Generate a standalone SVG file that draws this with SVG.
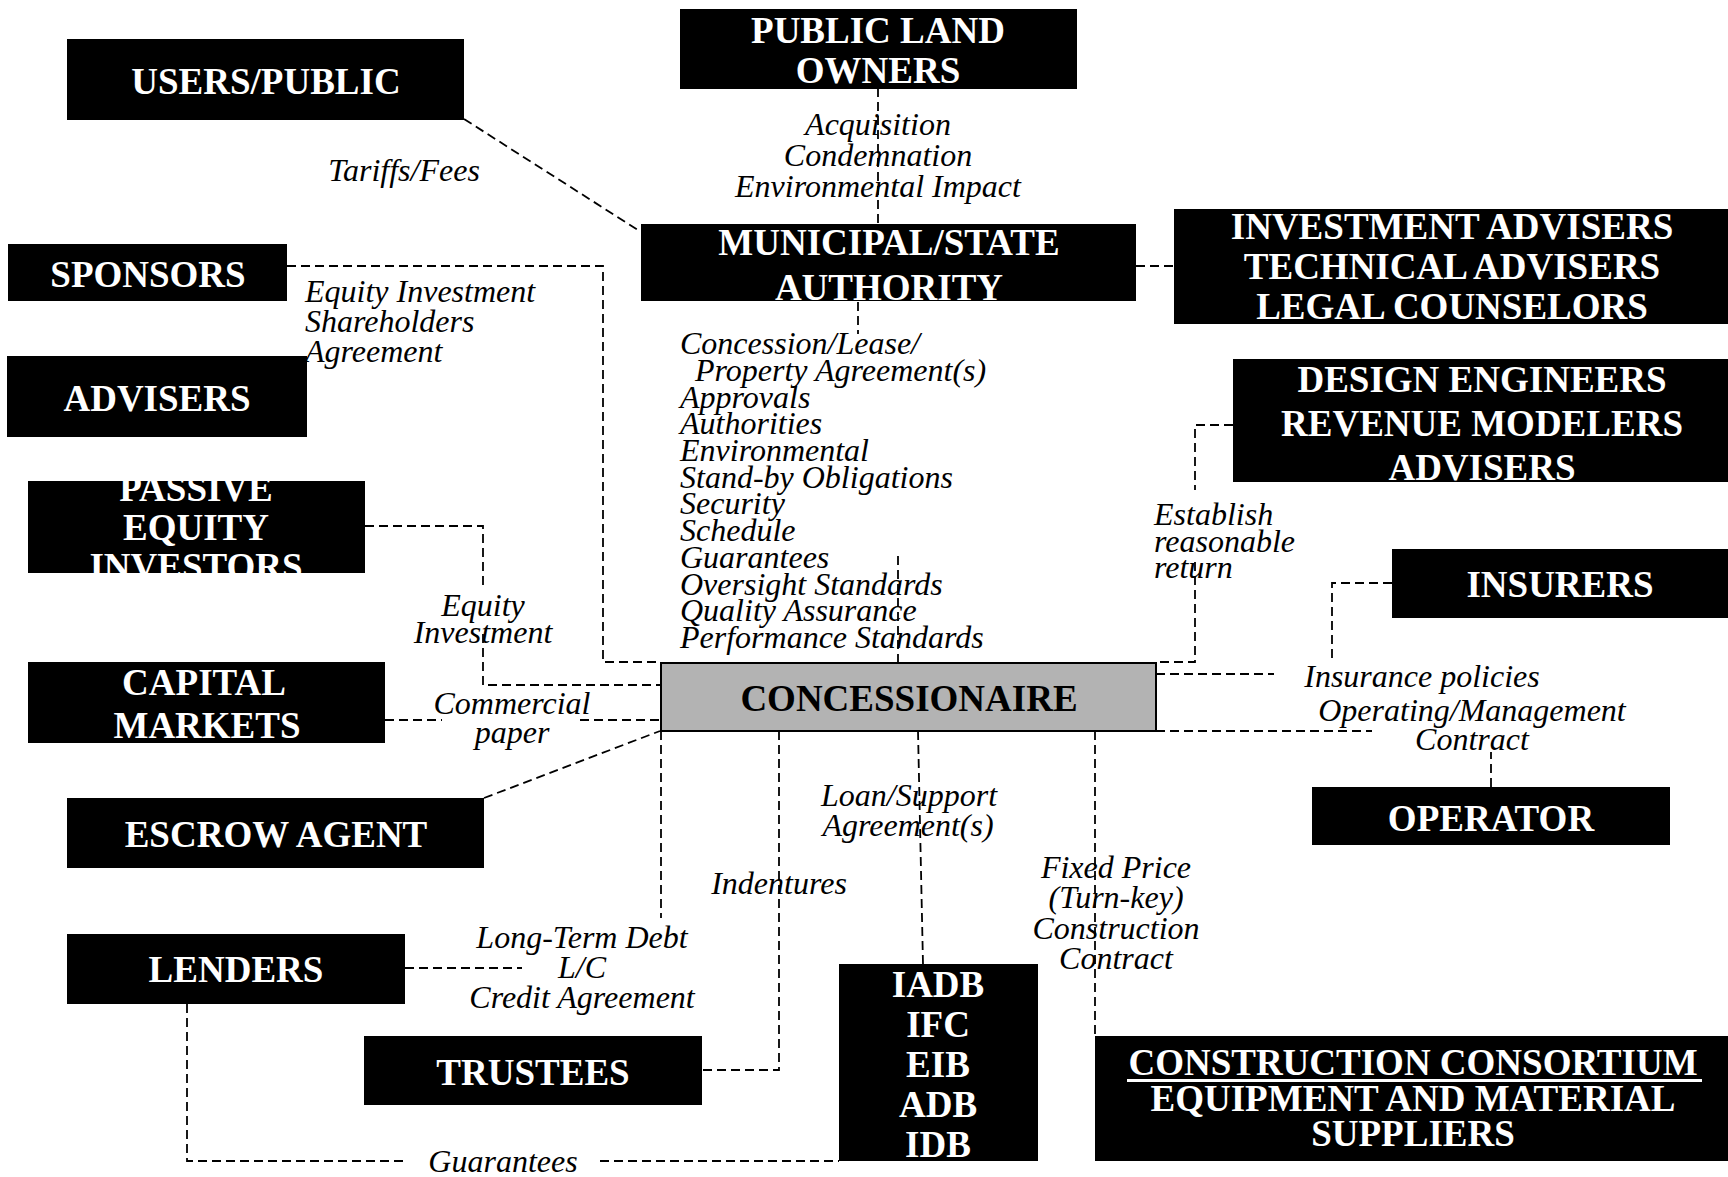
<svg xmlns="http://www.w3.org/2000/svg" width="1728" height="1177" viewBox="0 0 1728 1177">
<style>
.box{fill:#000}
.t{font-family:"Liberation Serif","Times New Roman",serif;font-weight:bold;font-size:37px;fill:#fff;text-anchor:middle}
.lbl{font-family:"Liberation Serif","Times New Roman",serif;font-style:italic;font-size:32px;fill:#000}
.c{text-anchor:middle}
.conn path{fill:none;stroke:#000;stroke-width:1.8;stroke-dasharray:9 5}
</style>
<defs>
<clipPath id="clipPassive"><rect x="28" y="481" width="337" height="92"/></clipPath>
</defs>
<rect width="1728" height="1177" fill="#fff"/>

<g id="connectors" class="conn">
<path d="M464,119 L641,232"/>
<path d="M878,88 L878,224"/>
<path d="M1136,266 L1174,266"/>
<path d="M858,302 L858,334"/>
<path d="M898,556 L898,663"/>
<path d="M287,266 H603 V662 H660"/>
<path d="M365,526 H483 V588"/>
<path d="M483,634 V685 H660"/>
<path d="M385,720 H442"/>
<path d="M580,720 H660"/>
<path d="M484,798 L660,731"/>
<path d="M661,731 V918"/>
<path d="M405,968 H522"/>
<path d="M779,731 V1070 H701"/>
<path d="M918,731 L923,964"/>
<path d="M1095,731 V1036"/>
<path d="M187,1004 V1161 H405"/>
<path d="M600,1161 H839"/>
<path d="M1233,425 H1195 V490"/>
<path d="M1195,562 V662 H1156"/>
<path d="M1156,674 H1274"/>
<path d="M1392,583 H1332 V661"/>
<path d="M1156,731 H1372"/>
<path d="M1491,787 V752"/>
</g>

<g id="labels">
<text class="lbl c" x="404" y="181">Tariffs/Fees</text>
<text class="lbl c" x="878" y="135">Acquisition</text>
<text class="lbl c" x="878" y="166">Condemnation</text>
<text class="lbl c" x="878" y="197">Environmental Impact</text>
<text class="lbl" x="680" y="354">Concession/Lease/</text>
<text class="lbl" x="695" y="381">Property Agreement(s)</text>
<text class="lbl" x="680" y="408">Approvals</text>
<text class="lbl" x="680" y="434">Authorities</text>
<text class="lbl" x="680" y="461">Environmental</text>
<text class="lbl" x="680" y="488">Stand-by Obligations</text>
<text class="lbl" x="680" y="514">Security</text>
<text class="lbl" x="680" y="541">Schedule</text>
<text class="lbl" x="680" y="568">Guarantees</text>
<text class="lbl" x="680" y="595">Oversight Standards</text>
<text class="lbl" x="680" y="621">Quality Assurance</text>
<text class="lbl" x="680" y="648">Performance Standards</text>
<text class="lbl" x="305" y="302">Equity Investment</text>
<text class="lbl" x="305" y="332">Shareholders</text>
<text class="lbl" x="305" y="362">Agreement</text>
<text class="lbl c" x="483" y="616">Equity</text>
<text class="lbl c" x="483" y="643">Investment</text>
<text class="lbl c" x="512" y="714">Commercial</text>
<text class="lbl c" x="512" y="743">paper</text>
<text class="lbl c" x="582" y="948">Long-Term Debt</text>
<text class="lbl c" x="582" y="978">L/C</text>
<text class="lbl c" x="582" y="1008">Credit Agreement</text>
<text class="lbl c" x="779" y="894">Indentures</text>
<text class="lbl c" x="909" y="806">Loan/Support</text>
<text class="lbl c" x="908" y="836">Agreement(s)</text>
<text class="lbl c" x="1116" y="878">Fixed Price</text>
<text class="lbl c" x="1116" y="908">(Turn-key)</text>
<text class="lbl c" x="1116" y="939">Construction</text>
<text class="lbl c" x="1116" y="969">Contract</text>
<text class="lbl c" x="503" y="1172">Guarantees</text>
<text class="lbl" x="1154" y="525">Establish</text>
<text class="lbl" x="1154" y="552">reasonable</text>
<text class="lbl" x="1154" y="578">return</text>
<text class="lbl c" x="1422" y="687">Insurance policies</text>
<text class="lbl c" x="1472" y="721">Operating/Management</text>
<text class="lbl c" x="1472" y="750">Contract</text>
</g>

<g id="public-land-owners">
<rect class="box" x="680" y="9" width="397" height="80"/>
<text class="t" x="878" y="43">PUBLIC LAND</text>
<text class="t" x="878" y="83">OWNERS</text>
</g>
<g id="users-public">
<rect class="box" x="67" y="39" width="397" height="81"/>
<text class="t" x="266" y="94">USERS/PUBLIC</text>
</g>
<g id="municipal-state-authority">
<rect class="box" x="641" y="224" width="495" height="77"/>
<text class="t" x="889" y="255">MUNICIPAL/STATE</text>
<text class="t" x="889" y="300">AUTHORITY</text>
</g>
<g id="investment-advisers">
<rect class="box" x="1174" y="209" width="554" height="115"/>
<text class="t" x="1452" y="239">INVESTMENT ADVISERS</text>
<text class="t" x="1452" y="279">TECHNICAL ADVISERS</text>
<text class="t" x="1452" y="319">LEGAL COUNSELORS</text>
</g>
<g id="design-engineers">
<rect class="box" x="1233" y="359" width="495" height="123"/>
<text class="t" x="1482" y="392">DESIGN ENGINEERS</text>
<text class="t" x="1482" y="436">REVENUE MODELERS</text>
<text class="t" x="1482" y="480">ADVISERS</text>
</g>
<g id="sponsors">
<rect class="box" x="8" y="244" width="279" height="57"/>
<text class="t" x="148" y="287">SPONSORS</text>
</g>
<g id="advisers">
<rect class="box" x="7" y="356" width="300" height="81"/>
<text class="t" x="157" y="411">ADVISERS</text>
</g>
<g id="passive-equity-investors">
<rect class="box" x="28" y="481" width="337" height="92"/>
<g clip-path="url(#clipPassive)">
<text class="t" x="196" y="501">PASSIVE</text>
<text class="t" x="196" y="540">EQUITY</text>
<text class="t" x="196" y="579">INVESTORS</text>
</g>
</g>
<g id="capital-markets">
<rect class="box" x="28" y="662" width="357" height="81"/>
<text class="t" x="204" y="695">CAPITAL</text>
<text class="t" x="207" y="738">MARKETS</text>
</g>
<g id="escrow-agent">
<rect class="box" x="67" y="798" width="417" height="70"/>
<text class="t" x="276" y="847">ESCROW AGENT</text>
</g>
<g id="lenders">
<rect class="box" x="67" y="934" width="338" height="70"/>
<text class="t" x="236" y="982">LENDERS</text>
</g>
<g id="trustees">
<rect class="box" x="364" y="1036" width="338" height="69"/>
<text class="t" x="533" y="1085">TRUSTEES</text>
</g>
<g id="multilateral-banks">
<rect class="box" x="839" y="964" width="199" height="197"/>
<text class="t" x="938" y="997">IADB</text>
<text class="t" x="938" y="1037">IFC</text>
<text class="t" x="938" y="1077">EIB</text>
<text class="t" x="938" y="1117">ADB</text>
<text class="t" x="938" y="1157">IDB</text>
</g>
<g id="construction-consortium">
<rect class="box" x="1095" y="1036" width="633" height="125"/>
<text class="t" x="1413" y="1075">CONSTRUCTION CONSORTIUM</text>
<rect x="1127" y="1079" width="575" height="3" fill="#fff"/>
<text class="t" x="1413" y="1111">EQUIPMENT AND MATERIAL</text>
<text class="t" x="1413" y="1146">SUPPLIERS</text>
</g>
<g id="insurers">
<rect class="box" x="1392" y="549" width="336" height="69"/>
<text class="t" x="1560" y="597">INSURERS</text>
</g>
<g id="operator">
<rect class="box" x="1312" y="787" width="358" height="58"/>
<text class="t" x="1491" y="831">OPERATOR</text>
</g>
<g id="concessionaire">
<rect x="661" y="663" width="495" height="68" fill="#b3b3b3" stroke="#000" stroke-width="2"/>
<text class="t" x="909" y="711" style="fill:#000">CONCESSIONAIRE</text>
</g>
</svg>
